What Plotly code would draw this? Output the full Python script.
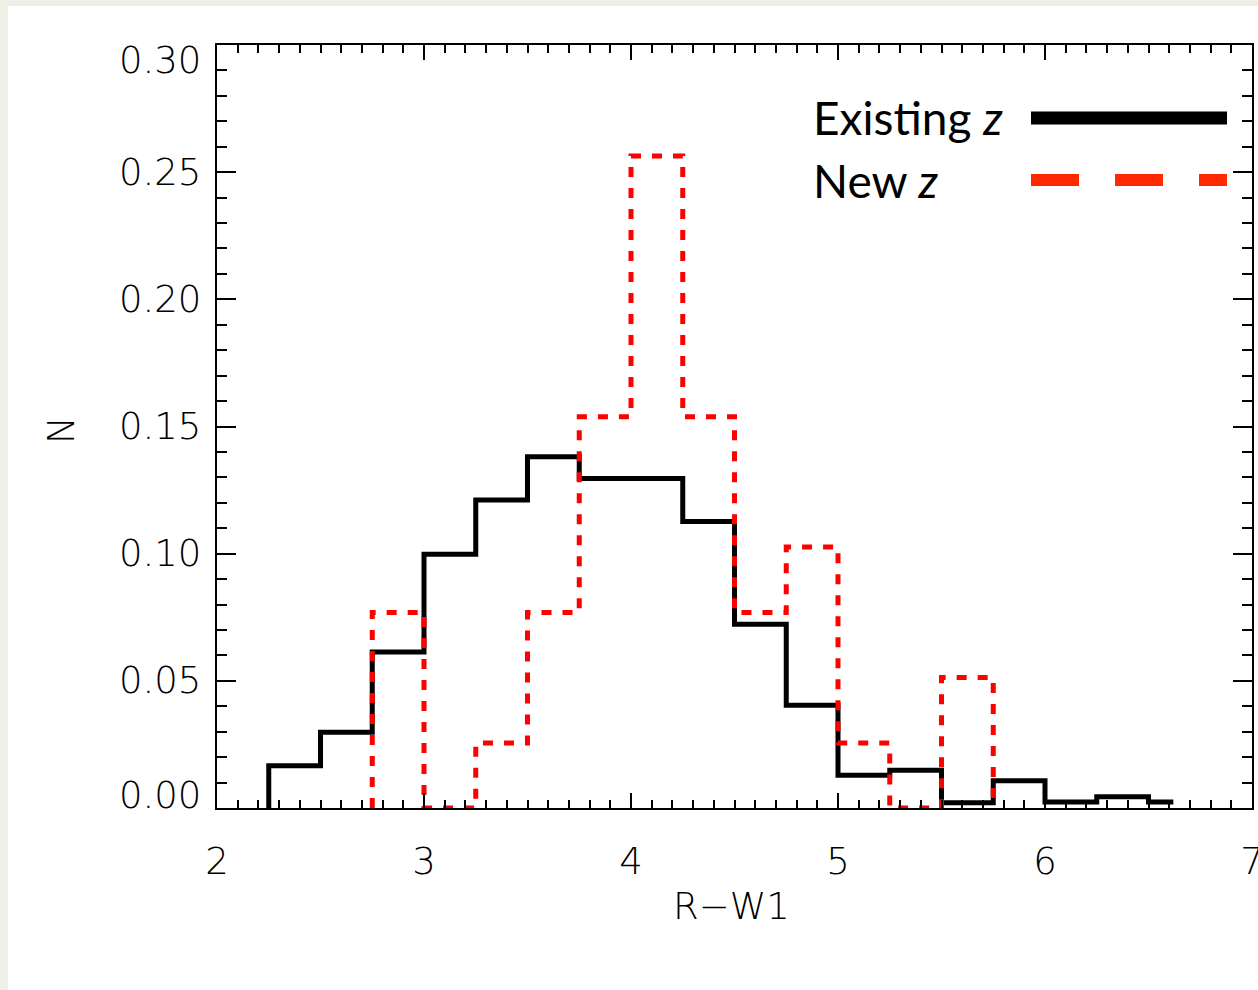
import numpy as np
import plotly.graph_objects as go

# ---- data ----
existing_edges = [2.25, 2.5, 2.75, 3.0, 3.25, 3.5, 3.75, 4.0, 4.25, 4.5, 4.75,
                  5.0, 5.25, 5.5, 5.75, 6.0, 6.25, 6.5, 6.62]
existing_vals = [0.0166, 0.0298, 0.0613, 0.0998, 0.1211, 0.1381, 0.1296, 0.1296,
                 0.1126, 0.0722, 0.0404, 0.0129, 0.0148, 0.0021, 0.0107, 0.0024,
                 0.0044, 0.0024]
new_edges = [2.75, 3.0, 3.25, 3.5, 3.75, 4.0, 4.25, 4.5, 4.75, 5.0, 5.25, 5.5, 5.75]
new_vals = [0.0769, 0.0, 0.0256, 0.0769, 0.1538, 0.2564, 0.1538, 0.0769, 0.1026,
            0.0256, 0.0, 0.0513]

x_ticks = [2, 3, 4, 5, 6, 7]
x_ticklabels = ["2", "3", "4", "5", "6", "7"]
y_ticks = [0.00, 0.05, 0.10, 0.15, 0.20, 0.25, 0.30]
y_ticklabels = ["0.00", "0.05", "0.10", "0.15", "0.20", "0.25", "0.30"]

series_names = ["Existing <i>z</i>", "New <i>z</i>"]
x_title = "R\u2212W1"
y_title = "N"


def step_xy(edges, vals, drop_end):
    xs = [edges[0]] + list(edges[:-1]) + [edges[-1]]
    ys = [0.0] + list(vals) + ([0.0] if drop_end else [vals[-1]])
    return xs, ys


W, H = 1258, 990
ML, MR, MT, MB = 217, 6, 45, 182
PW, PH = W - ML - MR, H - MT - MB


def px_x(p):
    return (p - ML) / PW


def px_y(p):
    return (H - MB - p) / PH


TICKFONT = dict(family="DejaVu Sans", size=37, color="black", weight=300)

fig = go.Figure()
bx, by = step_xy(existing_edges, existing_vals, drop_end=False)
fig.add_trace(go.Scatter(x=bx, y=by, mode="lines", line_shape="hv",
                         name=series_names[0], showlegend=False,
                         line=dict(color="black", width=5)))
rx, ry = step_xy(new_edges, new_vals, drop_end=True)
fig.add_trace(go.Scatter(x=rx, y=ry, mode="lines", line_shape="hv",
                         name=series_names[1], showlegend=False,
                         line=dict(color="#ff0000", width=5, dash="10px,11px")))

axis_common = dict(showline=True, linecolor="black", linewidth=2, mirror="allticks",
                   ticks="inside", tickcolor="black", tickwidth=2,
                   showgrid=False, zeroline=False, automargin=False)

fig.update_xaxes(range=[2, 7], tickvals=x_ticks, ticktext=x_ticklabels, ticklen=15,
                 tickfont=TICKFONT, ticklabelstandoff=20, ticklabeloverflow="allow",
                 minor=dict(ticks="inside", dtick=0.1, ticklen=8, tickcolor="black",
                            tickwidth=2, showgrid=False),
                 **axis_common)
fig.update_yaxes(range=[0, 0.30], tickvals=y_ticks, ticklen=19, showticklabels=False,
                 minor=dict(ticks="inside", dtick=0.01, ticklen=10, tickcolor="black",
                            tickwidth=2, showgrid=False),
                 **axis_common)

annotations = []
for v, lab in zip(y_ticks, y_ticklabels):
    shift = 0
    if v == y_ticks[0]:
        shift = 13
    elif v == y_ticks[-1]:
        shift = -15
    annotations.append(dict(x=0, xref="paper", y=v, yref="y", text=lab,
                            xanchor="right", yanchor="middle", xshift=-14, yshift=shift,
                            showarrow=False, font=TICKFONT))
annotations.append(dict(x=px_x(731), xref="paper", y=px_y(906), yref="paper",
                        text=x_title, xanchor="center", yanchor="middle",
                        showarrow=False, font=TICKFONT))
annotations.append(dict(x=px_x(61), xref="paper", y=px_y(430), yref="paper",
                        text=y_title, textangle=-90, xanchor="center", yanchor="middle",
                        showarrow=False, font=TICKFONT))

LEGFONT = dict(family="Lato", size=46, color="black")
annotations.append(dict(x=px_x(811), xref="paper", y=px_y(118), yref="paper",
                        text=series_names[0], xanchor="left", yanchor="middle",
                        showarrow=False, font=LEGFONT))
annotations.append(dict(x=px_x(811), xref="paper", y=px_y(180), yref="paper",
                        text=series_names[1], xanchor="left", yanchor="middle",
                        showarrow=False, font=LEGFONT))

shapes = [
    dict(type="rect", xref="paper", yref="paper", layer="below",
         x0=px_x(8), x1=px_x(W + 5), y0=px_y(H + 5), y1=px_y(6),
         fillcolor="white", line=dict(width=0)),
    dict(type="line", xref="paper", yref="paper",
         x0=px_x(1031), x1=px_x(1227), y0=px_y(118), y1=px_y(118),
         line=dict(color="black", width=13)),
    dict(type="line", xref="paper", yref="paper",
         x0=px_x(1031), x1=px_x(1227), y0=px_y(180), y1=px_y(180),
         line=dict(color="#ff2a00", width=12, dash="48px,36px")),
]

fig.update_layout(width=W, height=H,
                  margin=dict(l=ML, r=MR, t=MT, b=MB, autoexpand=False),
                  paper_bgcolor="#efefe7", plot_bgcolor="white",
                  annotations=annotations, shapes=shapes, showlegend=False)

fig.write_html("out.html")
